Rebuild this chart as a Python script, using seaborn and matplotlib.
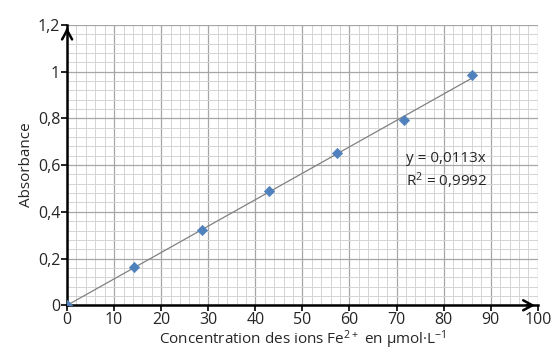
import matplotlib
matplotlib.use("Agg")
import matplotlib.pyplot as plt
import seaborn as sns
import numpy as np
import pandas as pd
from matplotlib.ticker import MultipleLocator

# données
concentration = [0, 14.3, 28.6, 43.0, 57.3, 71.6, 86.0]
absorbance = [0, 0.165, 0.322, 0.490, 0.651, 0.793, 0.985]
pente = 0.0113
x_ticks = [0, 10, 20, 30, 40, 50, 60, 70, 80, 90, 100]
y_ticks = [0, 0.2, 0.4, 0.6, 0.8, 1.0, 1.2]
y_tick_labels = ["0", "0,2", "0,4", "0,6", "0,8", "1", "1,2"]

sns.set_theme(style="white")
plt.rcParams["font.family"] = ["Open Sans", "DejaVu Sans"]
plt.rcParams["mathtext.default"] = "regular"

df = pd.DataFrame({"c": concentration, "A": absorbance})

fig, ax = plt.subplots(figsize=(5.59, 3.55), dpi=100)
fig.subplots_adjust(left=0.12, right=0.962, top=0.93, bottom=0.14)

# droite de tendance
xl = np.array([0, max(concentration)])
sns.lineplot(x=xl, y=pente * xl, ax=ax, color="#808080", linewidth=0.9, zorder=3)

sns.scatterplot(data=df, x="c", y="A", ax=ax, marker="D", s=28,
                color="#4F81BD", edgecolor="#4F81BD", zorder=4)

ax.set_xlim(0, 100)
ax.set_ylim(0, 1.2)
ax.set_xticks(x_ticks)
ax.set_yticks(y_ticks)
ax.set_yticklabels(y_tick_labels)
ax.xaxis.set_minor_locator(MultipleLocator(2))
ax.yaxis.set_minor_locator(MultipleLocator(0.04))
ax.grid(which="major", color="#a6a6a6", linewidth=0.9)
ax.grid(which="minor", color="#d4d4d4", linewidth=0.7)
ax.set_axisbelow(True)

for s in ["top", "right"]:
    ax.spines[s].set_visible(False)
for s in ["left", "bottom"]:
    ax.spines[s].set_color("black")
    ax.spines[s].set_linewidth(1.8)

ax.tick_params(axis="both", which="major", length=4, width=1.2, color="black",
               labelsize=11.5, direction="out", bottom=True, left=True, pad=1)
ax.tick_params(which="minor", length=0)

# flèches des axes
fl = dict(arrowstyle="->,head_length=0.55,head_width=0.3", color="black", lw=1.8)
ax.annotate("", xy=(1.0, 0), xytext=(0.97, 0), xycoords="axes fraction",
            arrowprops=fl, annotation_clip=False)
ax.annotate("", xy=(0, 1.0), xytext=(0, 0.97), xycoords="axes fraction",
            arrowprops=fl, annotation_clip=False)

ax.set_xlabel("Concentration des ions Fe$^{2+}$ en µmol·L$^{-1}$", fontsize=11, labelpad=0)
ax.set_ylabel("Absorbance", fontsize=11, labelpad=3)

ax.text(72, 0.63, "y = 0,0113x", fontsize=11, va="center")
ax.text(72, 0.535, "R$^2$ = 0,9992", fontsize=11, va="center")

fig.savefig("out.png", dpi=100)
